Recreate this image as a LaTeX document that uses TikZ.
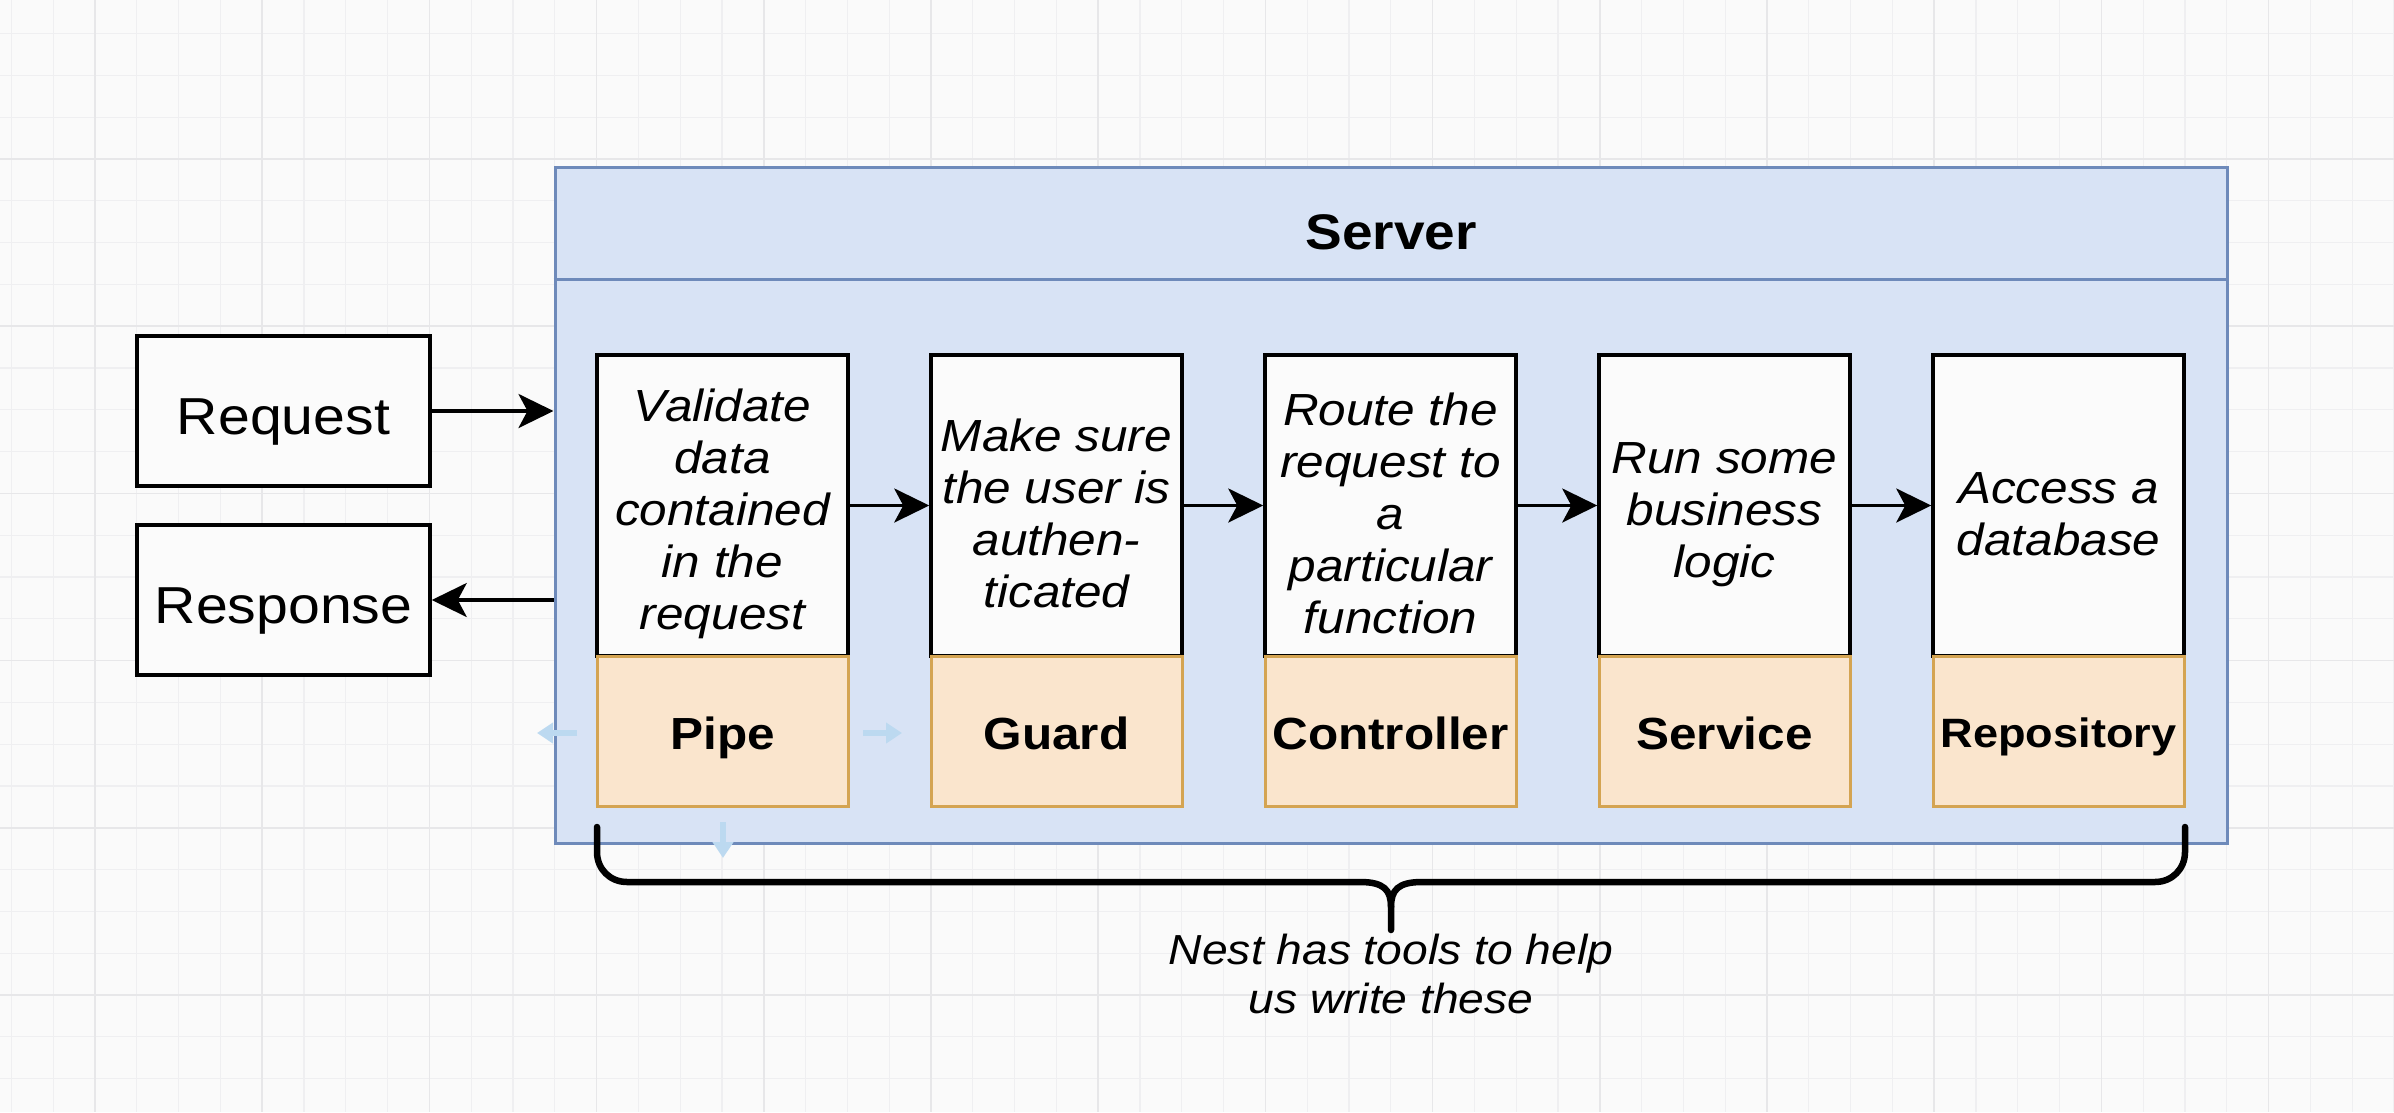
\documentclass[tikz,border=0pt]{standalone}
\usepackage{fontspec}
\setmainfont{Liberation Sans}[FakeStretch=1.1]
\usetikzlibrary{arrows.meta}
\definecolor{bgc}{RGB}{250,250,250}
\definecolor{gridminor}{RGB}{239,239,241}
\definecolor{gridmajor}{RGB}{231,231,233}
\definecolor{sfill}{RGB}{216,227,245}
\definecolor{sstroke}{RGB}{110,138,186}
\definecolor{ofill}{RGB}{250,229,205}
\definecolor{ostroke}{RGB}{212,164,82}
\definecolor{wbox}{RGB}{251,251,251}
\definecolor{fblue}{RGB}{188,217,240}
\newcommand\toppad{\rule{0pt}{49pt}}
\tikzset{
  iobox/.style={draw=black, line width=3.5pt, fill=wbox, inner sep=0pt,
    minimum width=293pt, minimum height=150pt,
    font=\fontsize{52}{60}\selectfont, text height=46pt, text depth=0pt},
  desc/.style={draw=black, line width=3.5pt, fill=wbox, inner sep=0pt,
    minimum width=251pt, minimum height=301pt, align=center,
    font=\fontsize{45}{52}\selectfont\itshape},
  lbl/.style={draw=ostroke, line width=3pt, fill=ofill, inner sep=0pt,
    minimum width=251pt, minimum height=150pt,
    font=\fontsize{45}{52}\selectfont\bfseries, text height=37pt, text depth=0pt},
  arr/.style={line width=3.5pt, -{Stealth[length=35pt,width=34pt,inset=9pt]}},
  bracestyle/.style={line width=6.5pt, line cap=round, line join=round},
  hint/.style={fblue, line width=6pt, -{Triangle[length=16pt,width=20pt]}}
}
\begin{document}
\begin{tikzpicture}[x=1pt,y=-1pt]
\useasboundingbox (0,0) rectangle (2394,1112);
\fill[bgc] (0,0) rectangle (2394,1112);
% grid
\foreach \k in {0,...,57}{
  \pgfmathsetmacro\gx{11.4+41.8*\k}
  \draw[gridminor, line width=1.2pt] (\gx,0) -- (\gx,1112);
}
\foreach \k in {0,...,26}{
  \pgfmathsetmacro\gy{33.6+41.8*\k}
  \draw[gridminor, line width=1.2pt] (0,\gy) -- (2394,\gy);
}
\foreach \k in {0,...,14}{
  \pgfmathsetmacro\gx{95+167.2*\k}
  \draw[gridmajor, line width=1.5pt] (\gx,0) -- (\gx,1112);
}
\foreach \k in {0,...,6}{
  \pgfmathsetmacro\gy{159+167.2*\k}
  \draw[gridmajor, line width=1.5pt] (0,\gy) -- (2394,\gy);
}
% server
\node[draw=sstroke, line width=3pt, fill=sfill, inner sep=0pt,
  minimum width=1672pt, minimum height=676pt] (srv) at (1391,505) {};
\coordinate (sepy) at (0,279);
\draw[sstroke, line width=3pt] (srv.west |- sepy) -- (srv.east |- sepy);
\node[font=\fontsize{50}{60}\selectfont\bfseries, inner sep=0pt,
  text height=36pt, text depth=0pt] (title) at (1391,231) {Server};
% request / response
\node[iobox] (req) at (283.5,411) {Request};
\node[iobox] (resp) at (283.5,600) {Response};
\draw[arr] (req.east) -- (req.east -| srv.west);
\draw[arr] (resp.east -| srv.west) -- (resp.east);
% columns
\node[desc] (d1) at (722.5,505.5) {\toppad Validate\\data\\contained\\in the\\request};
\node[desc] (d2) at (1056.5,505.5) {\toppad Make sure\\the user is\\authen-\\ticated};
\node[desc] (d3) at (1390.5,505.5) {\toppad Route the\\request to\\a\\particular\\function};
\node[desc] (d4) at (1724.5,505.5) {\toppad Run some\\business\\logic};
\node[desc] (d5) at (2058.5,505.5) {\toppad Access a\\database};
\node[lbl] (l1) at (722.5,731) {Pipe};
\node[lbl] (l2) at (1056.5,731) {Guard};
\node[lbl] (l3) at (1390.5,731) {Controller};
\node[lbl] (l4) at (1724.5,731) {Service};
\node[lbl, font=\fontsize{41}{48}\selectfont\bfseries, text height=32pt] (l5) at (2058.5,731) {Repository};
\draw[arr] (d1.east) -- (d2.west);
\draw[arr] (d2.east) -- (d3.west);
\draw[arr] (d3.east) -- (d4.west);
\draw[arr] (d4.east) -- (d5.west);
% brace
\coordinate (bl) at (597,827);
\coordinate (br) at (2185,827);
\coordinate (bm) at (1391,930);
\draw[bracestyle] (bl) -- (597,852) .. controls (597,869) and (610,882) .. (627,882)
  -- (1360,882) .. controls (1384,882) and (1391,890) .. (1391,907) -- (bm);
\draw[bracestyle] (br) -- (2185,852) .. controls (2185,869) and (2172,882) .. (2155,882)
  -- (1422,882) .. controls (1398,882) and (1391,890) .. (1391,907);
\node[anchor=north, align=center, inner sep=0pt,
  font=\fontsize{42}{49}\selectfont\itshape] (note) at (1391,934)
  {Nest has tools to help\\us write these};
% faint editor hints around Pipe
\coordinate (hl1) at (577,733); \coordinate (hl2) at (537,733);
\coordinate (hr1) at (863,733); \coordinate (hr2) at (902,733);
\coordinate (hd1) at (723,822); \coordinate (hd2) at (723,858);
\draw[hint] (hl1) -- (hl2);
\draw[hint] (hr1) -- (hr2);
\draw[hint] (hd1) -- (hd2);
\end{tikzpicture}
\end{document}
